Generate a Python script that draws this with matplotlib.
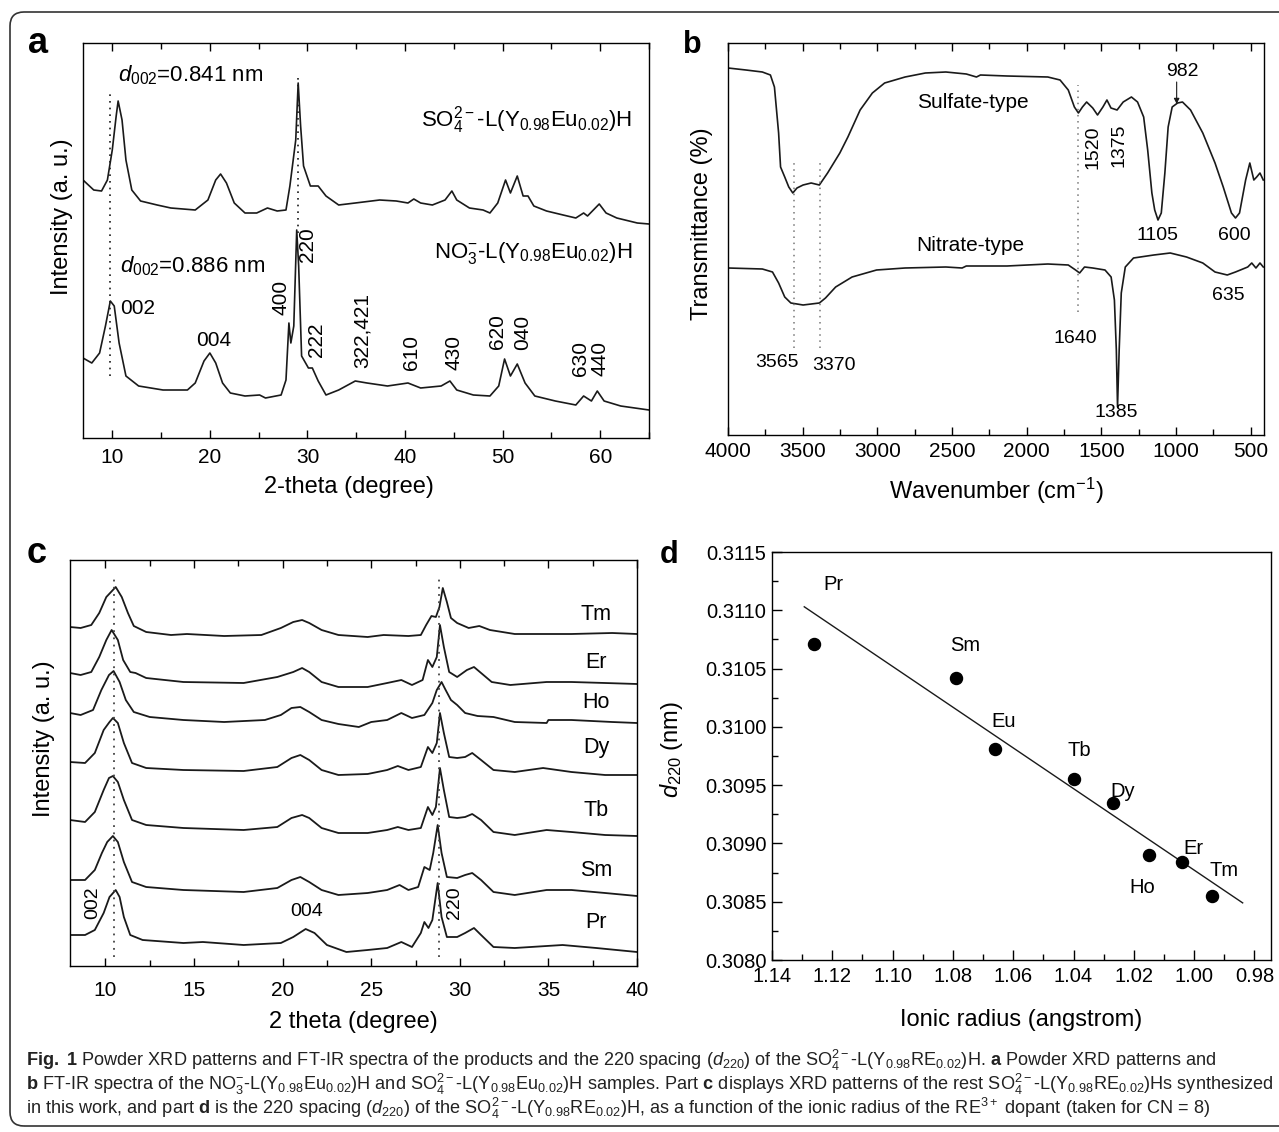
import matplotlib
matplotlib.use("Agg")
import matplotlib.pyplot as plt
from matplotlib import font_manager
from matplotlib.patches import FancyBboxPatch
from matplotlib.ticker import MultipleLocator, FormatStrFormatter

# ---------------- data ----------------
# (a) XRD, 2-theta (degree) vs intensity (a. u.)
so4_tt = [7.0, 8.1, 8.9, 9.5, 10.0, 10.4, 10.6, 11.0, 11.4, 12.0, 12.9, 14.6, 16.0, 18.5, 19.8,
          20.6, 21.1, 21.7, 22.5, 23.6, 24.8, 25.9, 26.9, 27.8, 28.2, 28.5, 28.8, 29.05, 29.3, 29.6,
          30.3, 31.1, 31.9, 33.2, 34.9, 37.4, 39.1, 40.3, 40.9, 41.6, 42.8, 44.1, 44.8, 45.3, 46.6,
          48.0, 48.7, 49.5, 50.3, 50.8, 51.5, 52.1, 52.6, 53.2, 54.5, 56.2, 57.5, 58.3, 58.7, 59.9,
          60.6, 61.7, 63.8, 65.0]
so4_int = [258, 248, 247, 258, 288, 322, 337, 318, 278, 248, 237, 233, 230, 228, 238,
           258, 264, 255, 235, 225, 225, 230, 227, 228, 252, 275, 298, 355, 312, 272,
           252, 252, 242, 233, 235, 238, 237, 235, 239, 235, 233, 238, 247, 238, 230,
           228, 225, 235, 258, 245, 262, 242, 242, 232, 227, 223, 220, 225, 222, 234,
           225, 220, 215, 214]

no3_tt = [7.0, 7.9, 8.7, 9.3, 9.8, 10.2, 10.7, 11.4, 12.7, 15.2, 17.7, 18.5, 19.4, 20.0, 20.6,
          21.3, 22.1, 23.6, 25.1, 25.7, 27.3, 27.8, 28.1, 28.3, 28.6, 28.9, 29.1, 29.4, 30.1, 30.5,
          31.1, 31.9, 33.2, 34.9, 36.1, 38.2, 40.3, 41.6, 43.7, 44.6, 45.3, 47.0, 48.7, 49.6, 50.2,
          50.8, 51.5, 52.3, 53.3, 55.4, 57.5, 58.3, 59.1, 59.7, 60.4, 62.1, 65.0]
no3_int = [80, 75, 85, 112, 137, 132, 95, 62, 52, 48, 48, 55, 77, 85, 75,
           55, 45, 42, 43, 40, 43, 58, 115, 95, 112, 208, 172, 82, 70, 70,
           57, 43, 48, 57, 55, 52, 55, 50, 52, 57, 48, 43, 42, 52, 79,
           62, 74, 55, 42, 37, 33, 42, 37, 47, 37, 32, 28]

hkl_labels = ["400", "220", "222", "322,421", "610", "430", "620", "040", "630", "440"]
hkl_tt = [27.3, 30.05, 30.9, 35.6, 40.65, 45.0, 49.5, 52.0, 58.0, 60.0]
hkl_int = [141, 193, 98, 108, 85, 85, 106, 106, 79, 80]

# (b) FT-IR, wavenumber (cm-1) vs transmittance
sulf_wn = [4000, 3880, 3770, 3716, 3689, 3661, 3648, 3620, 3593, 3566, 3538, 3497, 3443, 3388,
           3333, 3251, 3197, 3115, 3033, 2951, 2814, 2678, 2541, 2404, 2336, 2309, 2131, 1858,
           1776, 1721, 1680, 1653, 1626, 1598, 1557, 1525, 1489, 1462, 1435, 1394, 1353, 1298,
           1257, 1216, 1189, 1161, 1142, 1120, 1098, 1074, 1052, 1025, 989, 956, 902, 820, 738,
           683, 628, 601, 574, 533, 505, 478, 459, 437, 415]
sulf_tr = [367, 365, 363, 360, 348, 302, 268, 258, 248, 242, 247, 250, 252, 250,
           262, 282, 298, 325, 342, 352, 358, 362, 363, 361, 358, 360, 359, 358,
           355, 345, 328, 322, 328, 333, 327, 320, 328, 335, 327, 325, 333, 338,
           333, 318, 285, 242, 225, 215, 222, 262, 308, 328, 332, 333, 325, 302, 272,
           248, 222, 217, 222, 255, 272, 255, 258, 262, 255]

nitr_wn = [4000, 3770, 3702, 3661, 3620, 3579, 3497, 3388, 3347, 3279, 3169, 3005, 2814, 2541,
           2432, 2404, 2131, 1858, 1721, 1672, 1645, 1612, 1557, 1475, 1434, 1412, 1399, 1391,
           1380, 1366, 1339, 1284, 1148, 1038, 929, 820, 738, 656, 601, 519, 492, 464, 437, 415]
nitr_tr = [167, 166, 163, 152, 138, 132, 130, 132, 137, 148, 158, 165, 167, 168,
           167, 169, 169, 171, 170, 165, 162, 168, 167, 165, 158, 135, 85, 28,
           85, 142, 168, 177, 180, 182, 178, 172, 163, 160, 163, 168, 172, 167, 172, 168]

ir_labels = ["3565", "3370", "1640", "1385", "1105", "600", "635"]
ir_wn = [3675, 3292, 1672, 1399, 1126, 607, 648]
ir_tr = [73, 70, 97, 23, 200, 200, 140]

# (c) XRD of the other dopants
pr_tt = [8.0, 8.85, 9.4, 9.9, 10.23, 10.58, 10.8, 11.04, 11.4, 12.1, 14.4, 15.5, 17.8, 19.9, 20.6,
         21.3, 21.8, 22.5, 23.6, 24.8, 25.9, 26.7, 27.3, 27.8, 28.0, 28.23, 28.45, 28.75, 28.97,
         29.27, 29.85, 30.3, 30.8, 31.2, 31.9, 33.1, 35.8, 37.7, 40.0]
pr_int = [31, 31, 36, 53, 69, 76, 69, 49, 31, 26, 23, 24, 21, 23, 29,
          37, 33, 21, 14, 16, 18, 24, 19, 33, 44, 38, 46, 83, 49,
          29, 29, 33, 38, 31, 19, 18, 21, 18, 14]
sm_tt = [8.0, 8.85, 9.4, 9.8, 10.1, 10.42, 10.7, 11.04, 11.5, 12.3, 14.4, 17.8, 19.7, 20.5, 21.0,
         21.5, 22.2, 23.15, 24.8, 25.9, 26.6, 27.1, 27.65, 28.0, 28.3, 28.5, 28.75, 28.97, 29.27,
         29.85, 30.3, 30.7, 31.2, 31.9, 33.1, 34.9, 36.3, 38.2, 40.0]
sm_int = [86, 86, 96, 113, 124, 130, 124, 104, 84, 79, 76, 74, 78, 86, 89,
          84, 76, 71, 73, 76, 81, 76, 79, 99, 96, 113, 141, 113, 89,
          88, 91, 93, 86, 74, 71, 76, 76, 73, 70]
tb_tt = [8.0, 8.85, 9.4, 9.9, 10.2, 10.42, 10.7, 11.04, 11.5, 12.3, 14.4, 17.8, 19.7, 20.5, 21.1,
         21.5, 22.2, 23.15, 24.8, 25.9, 26.5, 27.1, 27.8, 28.2, 28.45, 28.65, 28.88, 29.1, 29.4,
         29.85, 30.3, 30.7, 31.2, 31.9, 33.1, 34.9, 36.3, 38.2, 40.0]
tb_int = [146, 144, 154, 176, 188, 190, 184, 166, 146, 141, 138, 136, 139, 148, 151,
          148, 138, 133, 133, 136, 139, 136, 138, 159, 151, 159, 198, 176, 149,
          148, 149, 152, 146, 134, 131, 136, 134, 131, 130]
dy_tt = [8.0, 8.85, 9.4, 9.9, 10.23, 10.42, 10.7, 11.04, 11.5, 12.3, 14.4, 17.8, 19.7, 20.5, 21.0,
         21.5, 22.2, 23.15, 24.8, 25.9, 26.5, 27.1, 27.8, 28.2, 28.45, 28.7, 28.88, 29.1, 29.4,
         29.85, 30.3, 30.7, 31.2, 31.9, 33.1, 34.7, 36.3, 38.2, 40.0]
dy_int = [204, 203, 213, 236, 244, 248, 243, 223, 203, 198, 196, 195, 199, 208, 211,
          206, 196, 191, 192, 196, 200, 196, 199, 219, 213, 223, 253, 233, 209,
          208, 209, 213, 206, 196, 194, 198, 194, 191, 191]
ho_tt = [8.0, 8.6, 9.3, 9.77, 10.2, 10.46, 10.8, 11.15, 11.6, 12.5, 14.4, 16.7, 19.0, 19.9, 20.5,
         21.0, 21.5, 22.2, 23.15, 24.3, 25.0, 25.9, 26.7, 27.3, 28.0, 28.45, 28.7, 28.97, 29.2,
         29.5, 29.85, 30.3, 31.0, 31.9, 33.1, 34.9, 35.0, 36.3, 38.6, 40.0]
ho_int = [253, 251, 256, 276, 291, 295, 284, 266, 254, 249, 246, 244, 246, 251, 258,
          259, 254, 246, 242, 239, 244, 246, 253, 248, 251, 263, 276, 284, 276,
          266, 261, 253, 250, 249, 244, 243, 246, 246, 244, 243]
er_tt = [8.0, 8.6, 9.2, 9.65, 10.05, 10.35, 10.7, 11.0, 11.4, 11.7, 12.3, 14.4, 17.8, 19.7, 20.6,
         21.1, 21.5, 22.2, 23.15, 24.8, 25.9, 26.7, 27.3, 27.9, 28.2, 28.45, 28.7, 28.88, 29.1,
         29.4, 29.85, 30.4, 30.8, 31.2, 31.8, 32.85, 34.9, 36.3, 38.2, 40.0]
er_int = [293, 291, 294, 309, 326, 336, 326, 306, 294, 293, 288, 284, 283, 289, 294,
          298, 294, 284, 279, 279, 283, 286, 281, 286, 306, 299, 309, 341, 319,
          294, 289, 296, 299, 293, 284, 281, 284, 284, 283, 282]
tm_tt = [8.0, 8.6, 9.2, 9.65, 10.05, 10.58, 10.92, 11.27, 11.6, 12.3, 13.7, 14.6, 16.7, 18.8, 19.9,
         20.6, 21.1, 21.5, 22.2, 23.15, 24.8, 25.7, 27.1, 27.8, 28.1, 28.4, 28.65, 28.85, 29.04,
         29.27, 29.5, 29.85, 30.5, 31.1, 31.7, 33.1, 34.0, 36.3, 38.6, 40.0]
tm_int = [339, 338, 341, 353, 369, 379, 369, 353, 340, 334, 331, 332, 330, 331, 338,
          344, 346, 343, 336, 331, 329, 331, 330, 331, 341, 350, 349, 359, 378,
          364, 348, 343, 338, 340, 336, 332, 332, 332, 333, 332]

dopants = ["Pr", "Sm", "Tb", "Dy", "Ho", "Er", "Tm"]
dopant_label_int = [43, 96, 156, 218, 263, 303, 351]

# (d) d220 spacing vs ionic radius
elements = ["Pr", "Sm", "Eu", "Tb", "Dy", "Ho", "Er", "Tm"]
radius = [1.126, 1.079, 1.066, 1.040, 1.027, 1.015, 1.004, 0.994]
d220 = [0.31071, 0.31042, 0.30981, 0.30955, 0.30935, 0.30890, 0.30884, 0.30855]
fit_radius = [1.1293, 0.9839]
fit_d220 = [0.31103, 0.30849]

# ---------------- fonts ----------------
installed = {f.name for f in font_manager.fontManager.ttflist}
SANS = "Liberation Sans" if "Liberation Sans" in installed else "DejaVu Sans"

plt.rcParams["font.family"] = [SANS, "DejaVu Sans"]
plt.rcParams["mathtext.fontset"] = "custom"
plt.rcParams["mathtext.rm"] = SANS
plt.rcParams["mathtext.it"] = SANS + ":italic"
plt.rcParams["mathtext.bf"] = SANS + ":bold"

W, H = 1279, 1132
fig = plt.figure(figsize=(W / 100, H / 100), dpi=100)
LINE = "#1a1a1a"


def px_axes(left, top, right, bottom):
    return fig.add_axes([left / W, 1 - bottom / H, (right - left) / W, (bottom - top) / H])


def style_spectrum_axes(ax, pad):
    for s in ax.spines.values():
        s.set_linewidth(1.0)
    ax.tick_params(axis="x", which="both", direction="in", top=True, labelsize=15, pad=pad, width=1.0)
    ax.tick_params(axis="x", which="major", length=6)
    ax.tick_params(axis="x", which="minor", length=4)
    ax.set_yticks([])


# ---------------- panel a ----------------
ax_a = px_axes(83, 43, 649, 438)
ax_a.plot(so4_tt, so4_int, color=LINE, lw=1.2)
ax_a.plot(no3_tt, no3_int, color=LINE, lw=1.2)
ax_a.vlines([9.75], 62, 345, colors=LINE, linestyles=(0, (1, 3)), lw=1.2)
ax_a.vlines([29.0], 205, 365, colors=LINE, linestyles=(0, (1, 3)), lw=1.2)
ax_a.set_xlim(7, 65)
ax_a.set_ylim(0, 395)
ax_a.xaxis.set_major_locator(MultipleLocator(10))
ax_a.xaxis.set_minor_locator(MultipleLocator(5))
style_spectrum_axes(ax_a, 7)
ax_a.set_xlabel("2-theta (degree)", fontsize=17)
ax_a.xaxis.set_label_coords(0.47, -0.095)
ax_a.set_ylabel("Intensity (a. u.)", fontsize=17)
ax_a.yaxis.set_label_coords(-0.018, 0.56)

ax_a.text(10.6, 363, r"$d_{002}$=0.841 nm", fontsize=16, va="center")
ax_a.text(10.8, 172, r"$d_{002}$=0.886 nm", fontsize=16, va="center")
ax_a.text(63.3, 318, r"SO$_4^{2-}$-L(Y$_{0.98}$Eu$_{0.02}$)H", fontsize=16, ha="right", va="center")
ax_a.text(63.3, 185, r"NO$_3^{-}$-L(Y$_{0.98}$Eu$_{0.02}$)H", fontsize=16, ha="right", va="center")
ax_a.text(10.8, 130, "002", fontsize=15, va="center")
ax_a.text(20.4, 98, "004", fontsize=15, ha="center", va="center")
for lab, x, y in zip(hkl_labels, hkl_tt, hkl_int):
    ax_a.text(x, y, lab, fontsize=15, rotation=90, ha="center", va="center")

# ---------------- panel b ----------------
ax_b = px_axes(728, 43, 1264, 435)
ax_b.plot(sulf_wn, sulf_tr, color=LINE, lw=1.2)
ax_b.plot(nitr_wn, nitr_tr, color=LINE, lw=1.2)
ax_b.vlines([3560, 3383], 87, 273, colors="#777777", linestyles=(0, (1, 3)), lw=1.1)
ax_b.vlines([1655], 123, 350, colors="#777777", linestyles=(0, (1, 3)), lw=1.1)
ax_b.set_xlim(4000, 410)
ax_b.set_ylim(0, 392)
ax_b.xaxis.set_major_locator(MultipleLocator(500))
ax_b.xaxis.set_minor_locator(MultipleLocator(250))
style_spectrum_axes(ax_b, 5)
ax_b.set_xlabel(r"Wavenumber (cm$^{-1}$)", fontsize=17)
ax_b.xaxis.set_label_coords(0.5, -0.105)
ax_b.set_ylabel("Transmittance (%)", fontsize=17)
ax_b.yaxis.set_label_coords(-0.028, 0.54)

ax_b.text(2363, 333, "Sulfate-type", fontsize=15, ha="center", va="center")
ax_b.text(2377, 190, "Nitrate-type", fontsize=15, ha="center", va="center")
ax_b.text(1552, 288, "1520", fontsize=14, rotation=90, ha="center", va="center")
ax_b.text(1380, 290, "1375", fontsize=14, rotation=90, ha="center", va="center")
ax_b.text(956, 364, "982", fontsize=14, ha="center", va="center")
ax_b.annotate("", xy=(995, 331), xytext=(995, 353),
              arrowprops=dict(arrowstyle="-|>", color=LINE, lw=0.8, mutation_scale=8,
                              shrinkA=0, shrinkB=0))
for lab, x, y in zip(ir_labels, ir_wn, ir_tr):
    ax_b.text(x, y, lab, fontsize=14, ha="center", va="center")

# ---------------- panel c ----------------
ax_c = px_axes(70, 560, 637, 966)
for tt, inten in [(pr_tt, pr_int), (sm_tt, sm_int), (tb_tt, tb_int), (dy_tt, dy_int),
                  (ho_tt, ho_int), (er_tt, er_int), (tm_tt, tm_int)]:
    ax_c.plot(tt, inten, color=LINE, lw=1.3)
ax_c.vlines([10.5, 28.8], 9, 391, colors="#444444", linestyles=(0, (1, 3)), lw=1.3)
ax_c.set_xlim(8, 40)
ax_c.set_ylim(0, 406)
ax_c.xaxis.set_major_locator(MultipleLocator(5))
ax_c.xaxis.set_minor_locator(MultipleLocator(2.5))
style_spectrum_axes(ax_c, 11)
ax_c.set_xlabel("2 theta (degree)", fontsize=17)
ax_c.xaxis.set_label_coords(0.5, -0.11)
ax_c.set_ylabel("Intensity (a. u.)", fontsize=17)
ax_c.yaxis.set_label_coords(-0.026, 0.56)
for lab, y in zip(dopants, dopant_label_int):
    ax_c.text(37.7, y, lab, fontsize=15.5, ha="center", va="center")
ax_c.text(9.3, 63, "002", fontsize=14, rotation=90, ha="center", va="center")
ax_c.text(21.35, 54, "004", fontsize=14, ha="center", va="center")
ax_c.text(29.7, 63, "220", fontsize=14, rotation=90, ha="center", va="center")

# ---------------- panel d ----------------
ax_d = px_axes(772, 552, 1271, 960)
ax_d.plot(fit_radius, fit_d220, color=LINE, lw=1.0)
ax_d.scatter(radius, d220, s=75, color="black", zorder=3)
label_offsets = [(14, 43), (7, 23), (6, 20), (4, 21), (7, 8), (-5, -23), (8, 10), (8.5, 18)]
for lab, x, y, off in zip(elements, radius, d220, label_offsets):
    ax_d.annotate(lab, (x, y), xytext=off, textcoords="offset points",
                  fontsize=14.5, ha="center", va="center")
ax_d.set_xlim(1.14, 0.9745)
ax_d.set_ylim(0.3080, 0.3115)
ax_d.xaxis.set_major_locator(MultipleLocator(0.02))
ax_d.xaxis.set_minor_locator(MultipleLocator(0.01))
ax_d.yaxis.set_major_locator(MultipleLocator(0.0005))
ax_d.yaxis.set_minor_locator(MultipleLocator(0.00025))
ax_d.xaxis.set_major_formatter(FormatStrFormatter("%.2f"))
ax_d.yaxis.set_major_formatter(FormatStrFormatter("%.4f"))
for s in ax_d.spines.values():
    s.set_linewidth(1.0)
ax_d.tick_params(which="both", direction="in", labelsize=14.5, width=1.0)
ax_d.tick_params(which="major", length=7)
ax_d.tick_params(which="minor", length=4)
ax_d.tick_params(axis="x", pad=5)
ax_d.tick_params(axis="y", pad=4)
ax_d.set_xlabel("Ionic radius (angstrom)", fontsize=17)
ax_d.xaxis.set_label_coords(0.5, -0.12)
ax_d.set_ylabel(r"$d_{220}$ (nm)", fontsize=17)
ax_d.yaxis.set_label_coords(-0.174, 0.515)

# ---------------- panel letters ----------------
fig.text(28 / W, 1 - 53 / H, "a", fontsize=26, fontweight="bold")
fig.text(683 / W, 1 - 53 / H, "b", fontsize=22, fontweight="bold")
fig.text(27 / W, 1 - 563 / H, "c", fontsize=26, fontweight="bold")
fig.text(660 / W, 1 - 563 / H, "d", fontsize=22, fontweight="bold")

# ---------------- frame and caption ----------------
frame = FancyBboxPatch((0.10, 0.06), 12.85, 11.14, boxstyle="round,pad=0,rounding_size=0.14",
                       transform=fig.dpi_scale_trans, fill=False, edgecolor="#333333", lw=1.2)
fig.patches.append(frame)

caption = [
    r"$\mathbf{Fig.\ 1}$ Powder XRD patterns and FT-IR spectra of the products and the 220 spacing "
    r"($d_{220}$) of the SO$_4^{2-}$-L(Y$_{0.98}$RE$_{0.02}$)H. $\mathbf{a}$ Powder XRD patterns and",
    r"$\mathbf{b}$ FT-IR spectra of the NO$_3^{-}$-L(Y$_{0.98}$Eu$_{0.02}$)H and "
    r"SO$_4^{2-}$-L(Y$_{0.98}$Eu$_{0.02}$)H samples. Part $\mathbf{c}$ displays XRD patterns of the rest "
    r"SO$_4^{2-}$-L(Y$_{0.98}$RE$_{0.02}$)Hs synthesized",
    r"in this work, and part $\mathbf{d}$ is the 220 spacing ($d_{220}$) of the "
    r"SO$_4^{2-}$-L(Y$_{0.98}$RE$_{0.02}$)H, as a function of the ionic radius of the RE$^{3+}$ "
    r"dopant (taken for CN = 8)",
]
cap_texts = []
for line, base in zip(caption, [1066, 1090, 1114]):
    cap_texts.append(fig.text(26 / W, 1 - base / H, line, fontsize=13, color="#222222",
                              ha="left", va="baseline"))

# shrink the caption so the two full lines fit the frame width
renderer = fig.canvas.get_renderer()
widths = [t.get_window_extent(renderer).width for t in cap_texts[:2]]
cap_size = 13 * min(1242 / w for w in widths)
for t in cap_texts:
    t.set_fontsize(cap_size)

fig.savefig("out.png", dpi=100)
